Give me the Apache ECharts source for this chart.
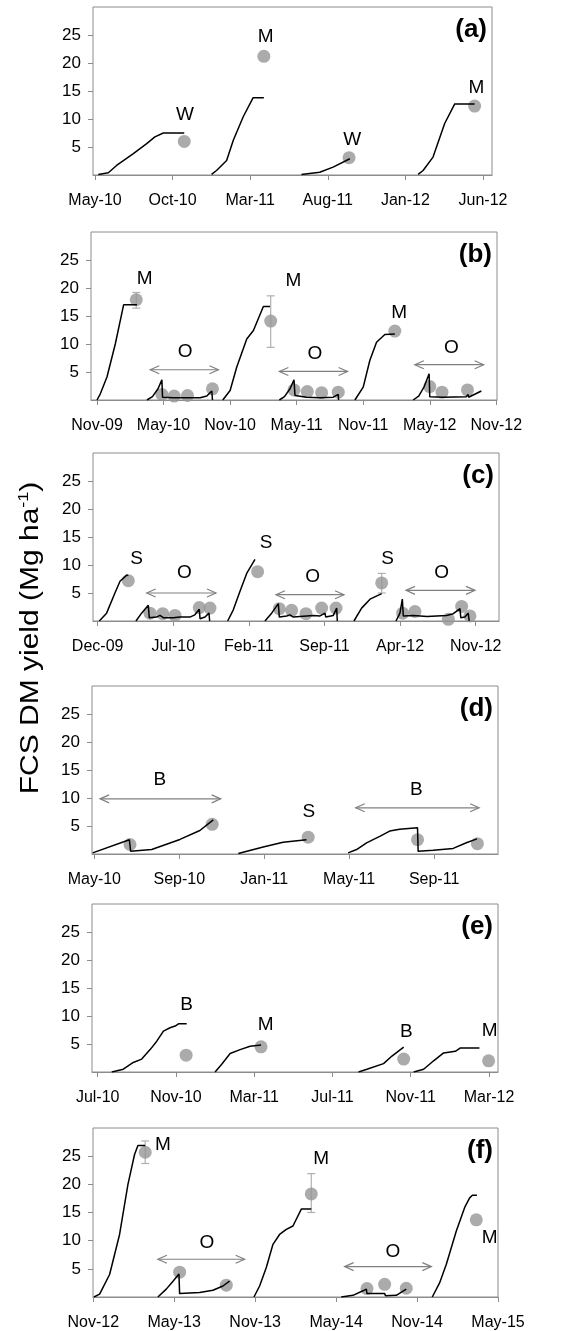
<!DOCTYPE html>
<html>
<head>
<meta charset="utf-8">
<script src="https://cdn.jsdelivr.net/npm/echarts@6/dist/echarts.min.js"></script>
<style>
  html, body { margin: 0; padding: 0; background: #fff; }
  #main { width: 576px; height: 1331px; }
</style>
</head>
<body>
<div id="main"></div>
<script>
// x values are months counted from Jan-09 (= 0)
// (a)
const simA = [
  [[16.21, 0.1], [16.86, 0.4], [17.39, 1.7], [18.47, 3.8], [19.33, 5.6], [19.86, 6.8], [20.4, 7.5], [21.75, 7.5]],
  [[23.51, 0.1], [23.83, 0.8], [24.48, 2.6], [24.91, 6.2], [25.55, 10.4], [26.19, 13.8], [26.88, 13.8]],
  [[29.3, 0.1], [30.48, 0.5], [31.34, 1.4], [32.42, 2.9]],
  [[36.82, 0.1], [37.14, 0.8], [37.78, 3.2], [38.53, 9.2], [39.18, 12.7], [40.46, 12.7]]
];
const obsA = [[21.75, 6.0], [26.88, 21.2], [32.37, 3.1], [40.46, 12.3]];
const errA = [];
const tagA = [[21.79, 10.7, 'W'], [26.99, 24.7, 'M'], [32.57, 6.3, 'W'], [40.57, 15.6, 'M']];
const arrA = [];
const ticksA = [16, 21, 26, 31, 36, 41];

// (b)
const simB = [
  [[10, 0], [10.3, 1.1], [10.9, 4.1], [11.65, 10.0], [12.4, 17.0], [13.6, 17.0]],
  [[14.5, 0], [15.0, 0.6], [15.5, 2.0], [15.85, 3.6], [15.91, 0.5], [16.9, 0.4], [18.1, 0.4], [19.3, 0.4], [19.9, 0.7], [20.35, 1.6], [20.41, 0]],
  [[21.34, 0], [22.0, 1.7], [22.6, 5.9], [23.5, 10.9], [24.1, 12.4], [25.0, 16.7], [25.6, 16.7]],
  [[26.44, 0], [26.9, 0.6], [27.4, 2.0], [27.76, 3.6], [27.85, 0.8], [28.9, 0.5], [30.1, 0.4], [31.3, 0.5], [31.75, 1.0], [31.78, 0]],
  [[33.25, 0], [34.0, 2.3], [34.6, 7.1], [35.2, 10.3], [35.95, 11.7], [36.85, 11.8]],
  [[38.5, 0], [39.0, 0.7], [39.5, 2.4], [39.94, 4.7], [40.0, 0.6], [41.2, 0.5], [43.3, 0.6], [43.45, 1.0], [43.5, 0.5], [44.65, 1.6]]
];
const obsB = [[13.54, 17.9], [15.85, 1.0], [16.96, 0.7], [18.16, 0.8], [20.41, 2.0], [25.66, 14.1], [27.76, 1.8], [28.96, 1.5],
  [30.25, 1.3], [31.75, 1.4], [36.85, 12.3], [40.0, 2.4], [41.1, 1.4], [43.4, 1.8]];
const errB = [[13.54, 16.4, 19.2], [25.66, 9.4, 18.6]];
const tagB = [[14.29, 21.6, 'M'], [17.95, 8.7, 'O'], [27.7, 21.3, 'M'], [29.65, 8.25, 'O'], [37.24, 15.5, 'M'], [41.95, 9.4, 'O']];
const arrB = [[14.8, 20.95, 5.4], [26.44, 32.59, 5.1], [38.65, 44.86, 6.3]];
const ticksB = [10, 16, 22, 28, 34, 40, 46];

// (c)
const simC = [
  [[11.15, 0], [11.83, 1.4], [12.6, 5.0], [13.07, 7.1], [13.69, 8.2], [13.84, 8.1]],
  [[14.55, 0], [15.07, 1.4], [15.69, 2.8], [15.78, 0.6], [16.46, 0.7], [16.77, 1.0], [17.08, 0.6], [18.0, 0.6], [18.62, 0.7],
    [19.55, 0.7], [20.0, 1.1], [20.41, 2.1], [20.48, 0.4], [20.94, 0.7], [21.31, 1.4], [21.37, 0]],
  [[23.04, 0], [23.56, 2.0], [24.18, 5.3], [24.8, 8.5], [25.57, 11.0]],
  [[26.49, 0], [27.11, 1.4], [27.73, 3.1], [27.82, 0.7], [28.5, 0.9], [28.81, 1.1], [29.12, 0.7], [30.35, 0.9], [30.97, 1.0],
    [31.59, 0.9], [32.05, 1.4], [32.12, 0.7], [32.82, 1.0], [33.13, 2.3], [33.19, 0]],
  [[34.73, 0], [35.44, 2.3], [36.22, 3.9], [37.3, 4.9]],
  [[38.62, 0], [38.99, 1.4], [39.21, 3.9], [39.3, 0.9], [40.23, 1.0], [41.5, 0.8], [43.31, 1.0], [43.93, 1.3], [44.55, 2.2],
    [44.62, 0.6], [45.0, 0.7], [45.31, 1.4], [45.4, 0]]
];
const obsC = [[13.84, 7.2], [15.85, 1.4], [17.02, 1.3], [18.16, 1.0], [20.41, 2.4], [21.4, 2.3], [25.81, 8.8], [27.82, 2.2],
  [28.96, 1.9], [30.29, 1.3], [31.74, 2.3], [33.07, 2.3], [37.3, 6.8], [39.24, 1.4], [40.38, 1.7], [43.47, 0.3], [44.7, 2.6], [45.47, 0.9]];
const errC = [[37.3, 5.0, 8.5]];
const tagC = [[14.6, 11.2, 'S'], [19.02, 8.55, 'O'], [26.59, 13.9, 'S'], [30.91, 7.96, 'O'], [37.85, 11.2, 'S'], [42.85, 8.55, 'O']];
const arrC = [[15.54, 21.96, 5.0], [27.51, 33.81, 4.7], [39.55, 45.94, 5.47]];
const ticksC = [11, 18, 25, 32, 39, 46];

// (d)
const simD = [
  [[15.92, 0.2], [17.65, 2.55], [17.71, 0.5], [18.7, 0.8], [20.03, 2.6], [20.97, 4.2], [21.6, 6.1]],
  [[22.78, 0.1], [23.95, 1.25], [24.89, 2.1], [25.99, 2.55]],
  [[27.95, 0.2], [28.35, 0.8], [28.82, 2.0], [29.44, 3.15], [29.91, 4.1], [30.38, 4.4], [31.22, 4.7], [31.25, 0.5],
    [31.96, 0.65], [32.9, 1.0], [33.52, 2.0], [34.02, 2.7]]
];
const obsD = [[17.68, 1.7], [21.55, 5.3], [26.07, 3.0], [31.22, 2.55], [34.04, 1.85]];
const errD = [];
const tagD = [[19.09, 13.2, 'B'], [26.1, 7.5, 'S'], [31.17, 11.45, 'B']];
const arrD = [[16.27, 21.95, 9.85], [28.31, 34.12, 8.25]];
const ticksD = [16, 20, 24, 28, 32];

// (e)
const simE = [
  [[18.72, 0], [19.31, 0.5], [19.82, 1.7], [20.25, 2.3], [20.68, 4.0], [21.02, 5.5], [21.36, 7.3], [21.7, 7.9], [21.96, 8.2], [22.13, 8.6], [22.55, 8.6]],
  [[24.0, 0], [24.34, 1.4], [24.77, 3.3], [25.28, 4.0], [25.79, 4.6], [26.35, 4.8]],
  [[31.33, 0], [31.76, 0.5], [32.61, 1.5], [33.04, 2.85], [33.64, 4.45]],
  [[34.15, 0], [34.66, 0.5], [35.17, 2.0], [35.68, 3.4], [36.28, 3.7], [36.54, 4.3], [37.51, 4.3]]
];
const obsE = [[22.52, 3.0], [26.35, 4.5], [33.64, 2.3], [37.98, 2.0]];
const errE = [];
const tagE = [[22.55, 12.05, 'B'], [26.59, 8.4, 'M'], [33.77, 7.1, 'B'], [38.03, 7.3, 'M']];
const arrE = [];
const ticksE = [18, 22, 26, 30, 34, 38];

// (f)
const simF = [
  [[46.05, 0], [46.47, 0.5], [47.21, 4.0], [47.95, 11.1], [48.57, 20.0], [49.06, 25.3], [49.31, 26.9], [49.85, 26.9]],
  [[50.79, 0], [51.41, 1.4], [51.91, 2.8], [52.35, 4.1], [52.4, 0.6], [53.88, 0.8], [54.87, 1.2], [55.61, 1.95], [56.1, 2.8]],
  [[57.91, 0], [58.33, 1.95], [58.82, 5.2], [59.32, 9.35], [59.81, 11.1], [60.31, 12.0], [60.8, 12.6], [61.42, 15.6], [62.16, 15.6]],
  [[64.38, 0], [65.25, 0.3], [65.99, 1.1], [66.24, 1.4], [66.29, 0.6], [67.6, 0.6], [67.67, 0.2], [68.46, 0.3], [69.2, 1.4]],
  [[71.13, 0], [71.67, 2.5], [72.17, 5.8], [72.91, 11.7], [73.53, 15.9], [73.9, 17.6], [74.1, 18.05], [74.44, 18.05]]
];
const obsF = [[49.85, 25.7], [52.4, 4.4], [55.86, 2.1], [62.16, 18.3], [66.29, 1.5], [67.6, 2.25], [69.2, 1.55], [74.39, 13.7]];
const errF = [[49.85, 23.7, 27.7], [62.16, 15.0, 21.9]];
const tagF = [[51.16, 27.1, 'M'], [54.43, 9.6, 'O'], [62.9, 24.6, 'M'], [68.21, 8.05, 'O'], [75.38, 10.5, 'M']];
const arrF = [[50.79, 57.22, 6.7], [64.63, 71.06, 5.4]];
const ticksF = [46, 52, 58, 64, 70, 76];

const yTicks = [5, 10, 15, 20, 25];
const MON = ['Jan', 'Feb', 'Mar', 'Apr', 'May', 'Jun', 'Jul', 'Aug', 'Sep', 'Oct', 'Nov', 'Dec'];

// panel layout: grid box in px and x range in months
const panels = [
  { tag: '(a)', sim: simA, obs: obsA, err: errA, tags: tagA, arr: arrA, ticks: ticksA, left: 93, top: 7, width: 399, height: 168, xmin: 15.87, xmax: 41.58 },
  { tag: '(b)', sim: simB, obs: obsB, err: errB, tags: tagB, arr: arrB, ticks: ticksB, left: 91, top: 232, width: 406, height: 168, xmin: 9.46, xmax: 46.06 },
  { tag: '(c)', sim: simC, obs: obsC, err: errC, tags: tagC, arr: arrC, ticks: ticksC, left: 93, top: 453, width: 406, height: 168, xmin: 10.57, xmax: 48.16 },
  { tag: '(d)', sim: simD, obs: obsD, err: errD, tags: tagD, arr: arrD, ticks: ticksD, left: 92, top: 686, width: 406, height: 168, xmin: 15.89, xmax: 35.01 },
  { tag: '(e)', sim: simE, obs: obsE, err: errE, tags: tagE, arr: arrE, ticks: ticksE, left: 92, top: 904, width: 406, height: 168, xmin: 17.71, xmax: 38.46 },
  { tag: '(f)', sim: simF, obs: obsF, err: errF, tags: tagF, arr: arrF, ticks: ticksF, left: 93, top: 1128, width: 405, height: 169, xmin: 45.98, xmax: 76 }
];

const FONT = '"Liberation Sans", Arial, sans-serif';
const GRAY = '#8c8c8c';

function monthLabel(v) {
  const m = Math.round(v);
  return MON[m % 12] + '-' + String(9 + Math.floor(m / 12)).padStart(2, '0');
}

function renderArrow(params, api) {
  const a = api.coord([api.value(0), api.value(2)]);
  const b = api.coord([api.value(1), api.value(2)]);
  const st = { stroke: '#808080', lineWidth: 1.2, fill: null };
  return {
    type: 'group',
    children: [
      { type: 'line', shape: { x1: a[0], y1: a[1], x2: b[0], y2: b[1] }, style: st },
      { type: 'polyline', shape: { points: [[a[0] + 9, a[1] - 4], [a[0], a[1]], [a[0] + 9, a[1] + 4]] }, style: st },
      { type: 'polyline', shape: { points: [[b[0] - 9, b[1] - 4], [b[0], b[1]], [b[0] - 9, b[1] + 4]] }, style: st }
    ]
  };
}

function renderErr(params, api) {
  const lo = api.coord([api.value(0), api.value(1)]);
  const hi = api.coord([api.value(0), api.value(2)]);
  const st = { stroke: '#b0b0b0', lineWidth: 1.2 };
  return {
    type: 'group',
    children: [
      { type: 'line', shape: { x1: lo[0], y1: lo[1], x2: hi[0], y2: hi[1] }, style: st },
      { type: 'line', shape: { x1: lo[0] - 4, y1: lo[1], x2: lo[0] + 4, y2: lo[1] }, style: st },
      { type: 'line', shape: { x1: hi[0] - 4, y1: hi[1], x2: hi[0] + 4, y2: hi[1] }, style: st }
    ]
  };
}

const grid = [], xAxis = [], yAxis = [], series = [], graphic = [];

panels.forEach((p, i) => {
  grid.push({ left: p.left, top: p.top, width: p.width, height: p.height, show: true, borderColor: GRAY, borderWidth: 1 });
  xAxis.push({
    type: 'value', gridIndex: i, min: p.xmin, max: p.xmax,
    axisLine: { show: true, onZero: false, lineStyle: { color: GRAY } },
    axisTick: { show: true, length: 5, customValues: p.ticks, lineStyle: { color: GRAY } },
    axisLabel: { customValues: p.ticks, formatter: monthLabel, fontSize: 16, fontFamily: FONT, color: '#000', margin: 18 },
    splitLine: { show: false }
  });
  yAxis.push({
    type: 'value', gridIndex: i, min: 0, max: 30,
    axisLine: { show: false },
    axisTick: { show: true, length: 5, customValues: yTicks, lineStyle: { color: GRAY } },
    axisLabel: { customValues: yTicks, fontSize: 17, fontFamily: FONT, color: '#000', margin: 12 },
    splitLine: { show: false }
  });

  p.sim.forEach(seg => {
    series.push({
      type: 'line', xAxisIndex: i, yAxisIndex: i, data: seg, symbol: 'none', silent: true, z: 5,
      lineStyle: { color: '#000', width: 1.5 }
    });
  });
  series.push({
    type: 'scatter', xAxisIndex: i, yAxisIndex: i, data: p.obs, symbolSize: 13, silent: true, z: 3,
    itemStyle: { color: '#969696' }
  });
  if (p.err.length) {
    series.push({
      type: 'custom', xAxisIndex: i, yAxisIndex: i, data: p.err, renderItem: renderErr, silent: true, z: 2,
      encode: { x: 0, y: [1, 2] }
    });
  }
  if (p.arr.length) {
    series.push({
      type: 'custom', xAxisIndex: i, yAxisIndex: i, data: p.arr, renderItem: renderArrow, silent: true, z: 2,
      encode: { x: [0, 1], y: 2 }
    });
  }
  series.push({
    type: 'scatter', xAxisIndex: i, yAxisIndex: i, symbolSize: 1, silent: true, z: 6,
    itemStyle: { color: 'rgba(0,0,0,0)' },
    data: p.tags.map(t => ({ value: [t[0], t[1]], name: t[2] })),
    label: { show: true, position: 'inside', formatter: '{b}', fontSize: 19, fontFamily: FONT, color: '#000', opacity: 1 }
  });

  graphic.push({
    type: 'text', x: p.left + p.width - 5, y: p.top + 23,
    style: { text: p.tag, fontSize: 26, fontWeight: 'bold', fontFamily: FONT, fill: '#000', align: 'right', verticalAlign: 'middle' }
  });
});

graphic.push({
  type: 'text', x: 31, y: 638, rotation: Math.PI / 2, scaleX: 1.2,
  style: {
    text: '{a|FCS DM yield (Mg ha}{s|-1}{a|)}',
    align: 'center', verticalAlign: 'middle',
    rich: {
      a: { fontSize: 25, fontFamily: FONT, fill: '#000', lineHeight: 30 },
      s: { fontSize: 15, fontFamily: FONT, fill: '#000', verticalAlign: 'top', lineHeight: 30 }
    }
  }
});

const chart = echarts.init(document.getElementById('main'));
chart.setOption({ animation: false, backgroundColor: '#fff', grid, xAxis, yAxis, series, graphic });
</script>
</body>
</html>
